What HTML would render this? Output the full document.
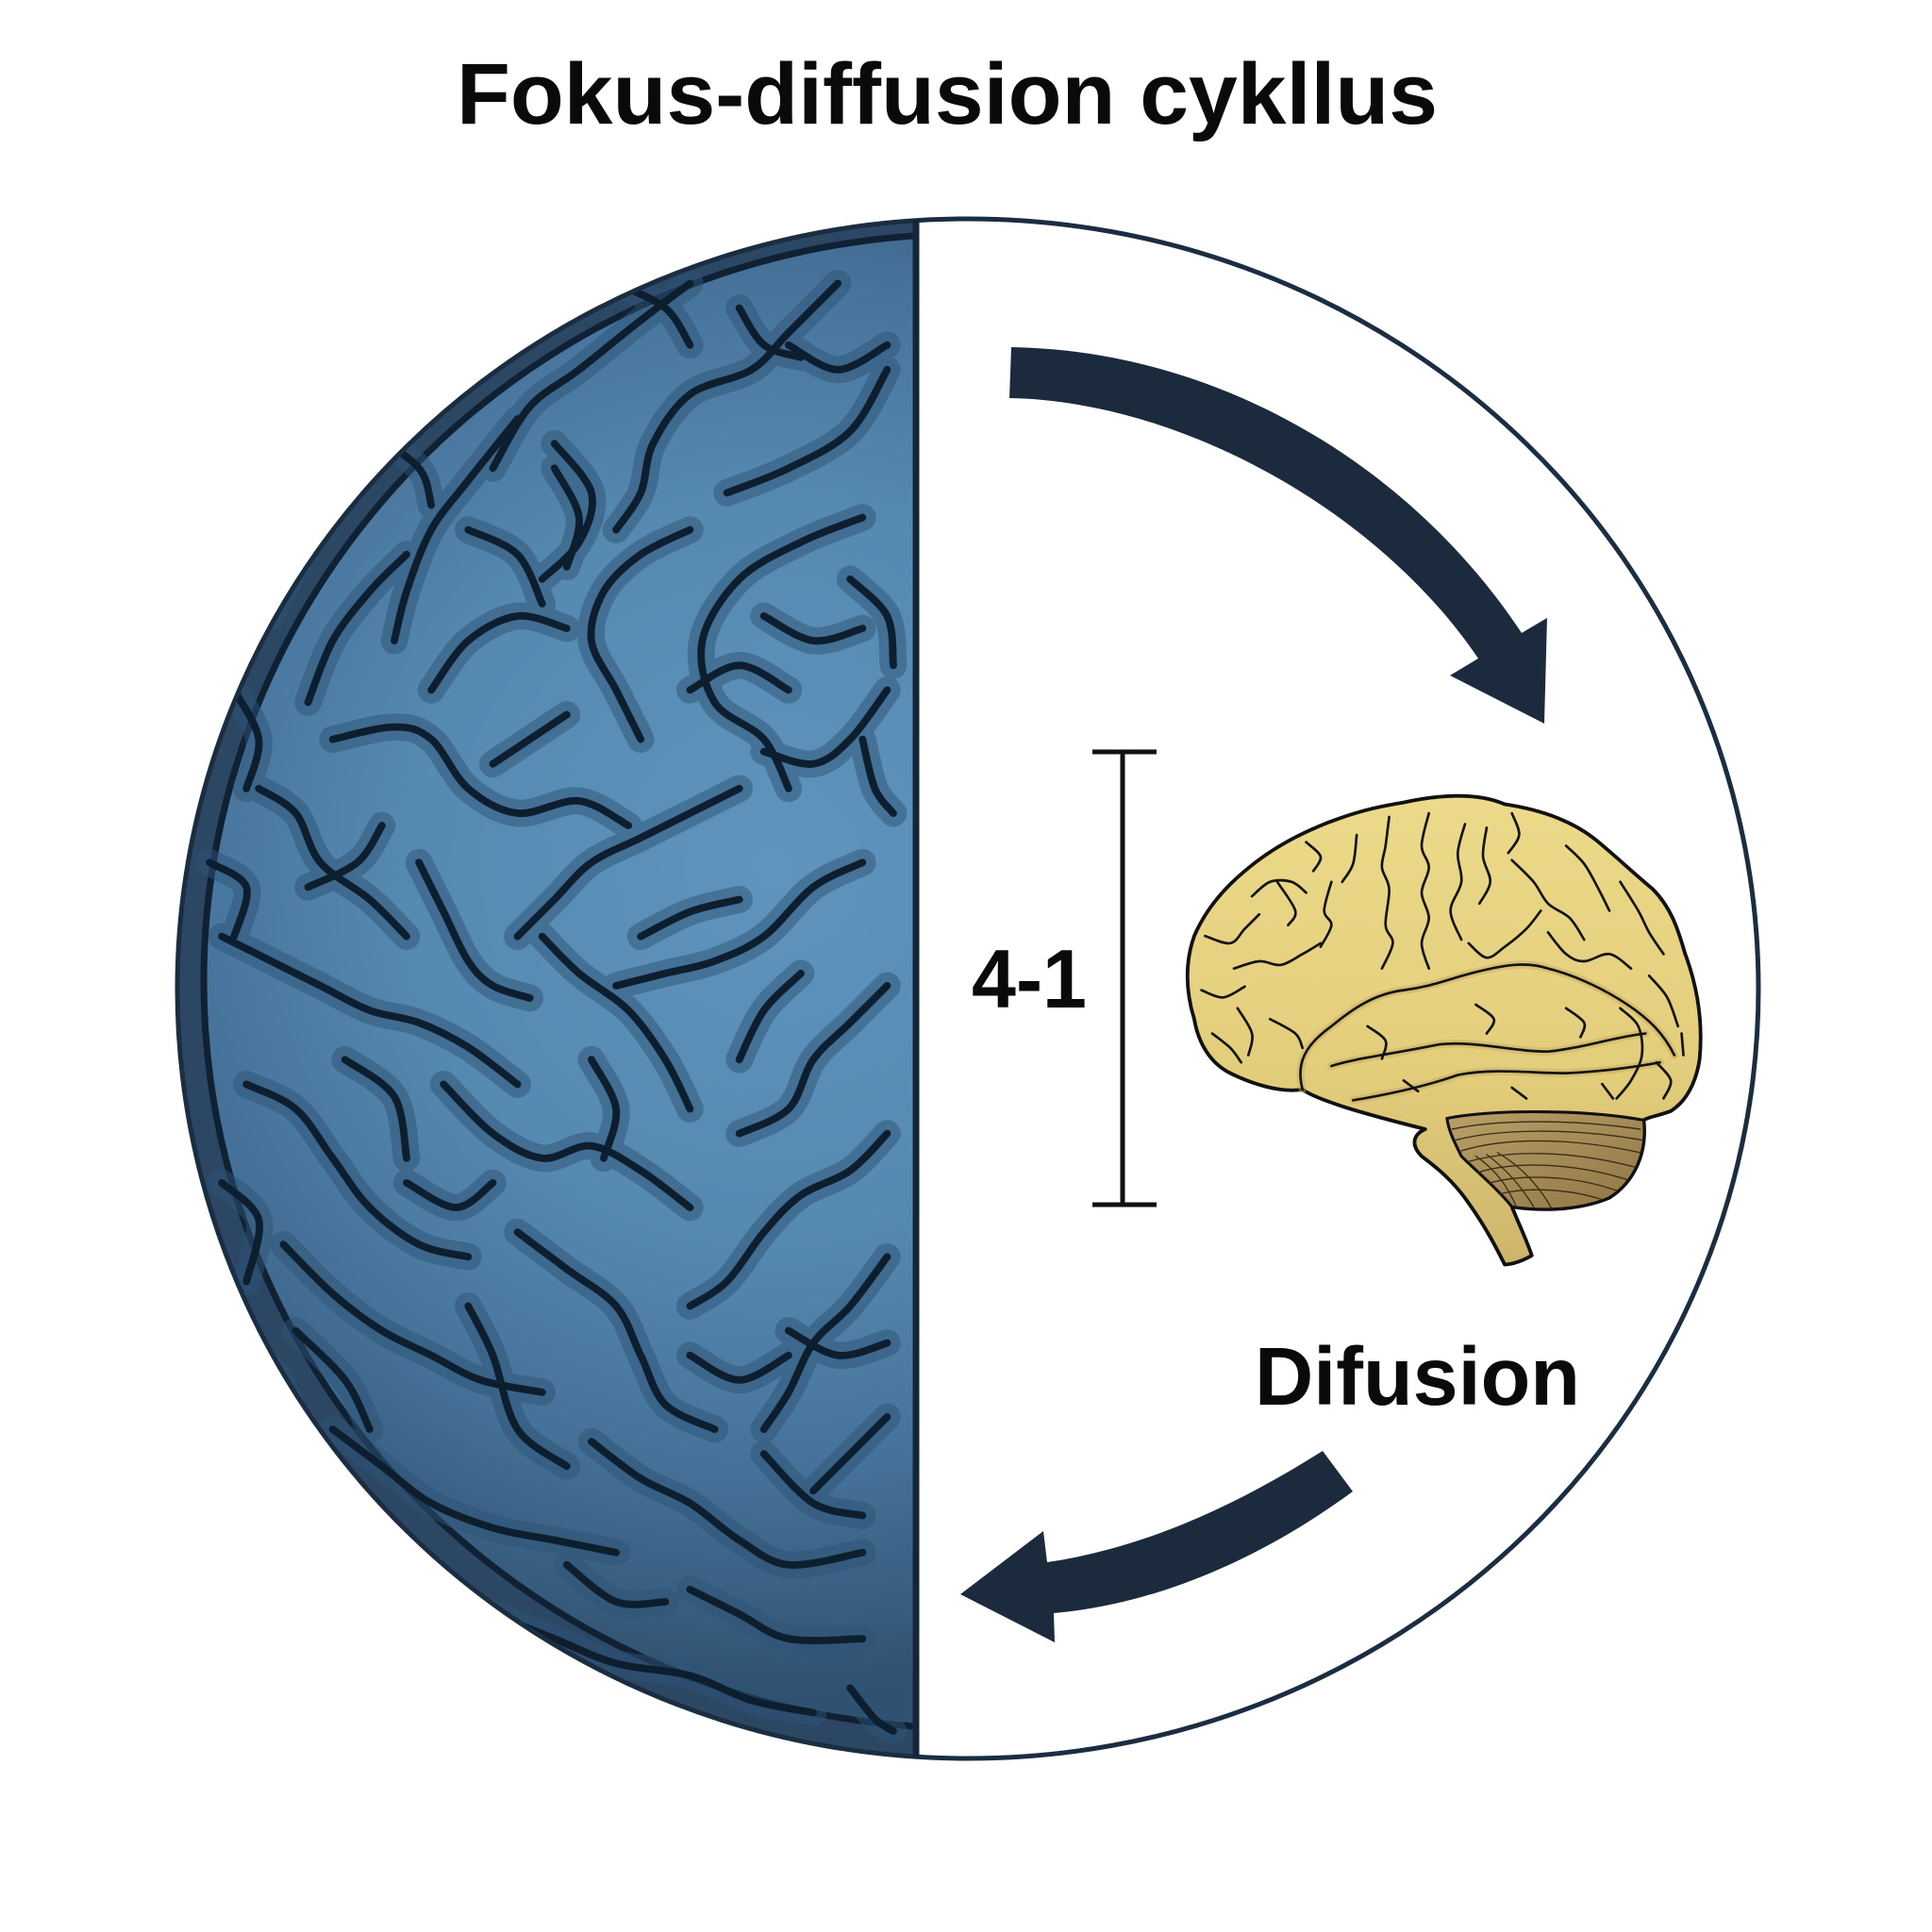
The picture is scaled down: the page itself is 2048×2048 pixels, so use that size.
<!DOCTYPE html>
<html>
<head>
<meta charset="utf-8">
<style>
html,body{margin:0;padding:0;background:#ffffff;}
svg{display:block;}
</style>
</head>
<body>
<svg id="root" xmlns="http://www.w3.org/2000/svg" xmlns:xlink="http://www.w3.org/1999/xlink" width="2048" height="2048" viewBox="0 0 2048 2048">
<defs>
  <clipPath id="ell"><ellipse cx="1026" cy="1048" rx="840" ry="818"/></clipPath>
  <clipPath id="lh"><rect x="0" y="0" width="971" height="2048"/></clipPath>
  <radialGradient id="bg" gradientUnits="userSpaceOnUse" cx="820" cy="920" r="880">
    <stop offset="0" stop-color="#6094bd"/>
    <stop offset="0.45" stop-color="#5689b0"/>
    <stop offset="0.72" stop-color="#46729a"/>
    <stop offset="1" stop-color="#30516f"/>
  </radialGradient>
  <linearGradient id="yb" x1="0" y1="0" x2="0" y2="1">
    <stop offset="0" stop-color="#ecda8a"/>
    <stop offset="0.6" stop-color="#e2cd7b"/>
    <stop offset="1" stop-color="#cdb46a"/>
  </linearGradient>
  <linearGradient id="cb" x1="0" y1="0" x2="1" y2="1">
    <stop offset="0" stop-color="#b9a068"/>
    <stop offset="1" stop-color="#8f7646"/>
  </linearGradient>
  <g id="sul">
    <polyline class="s" points="560,230 520,260 470,300 430,330 400,380"/>
    <polyline class="s" points="680,230 640,270 610,300 560,320 530,360 520,400 500,430"/>
    <polyline class="s" points="720,300 690,350 640,380 590,400"/>
    <polyline class="s" points="600,250 620,280 650,290"/>
    <polyline class="s" points="420,340 380,390 350,430 330,480 320,520"/>
    <polyline class="s" points="330,450 300,480 270,520 250,570"/>
    <polyline class="s" points="560,430 520,450 490,480 480,520 500,560 520,600"/>
    <polyline class="s" points="700,420 650,440 600,470 570,520 580,570 620,600 640,640"/>
    <polyline class="s" points="350,560 380,520 420,500 460,510"/>
    <polyline class="s" points="270,600 320,590 350,600 380,640 420,660 470,650 510,670"/>
    <polyline class="s" points="210,640 240,660 260,700 300,730 330,760"/>
    <polyline class="s" points="600,640 560,660 520,680 480,700 450,730 420,760"/>
    <polyline class="s" points="720,560 690,600 660,620 620,610"/>
    <polyline class="s" points="340,700 360,740 380,780 400,800 430,810"/>
    <polyline class="s" points="180,760 220,780 260,800 300,820 340,830 380,850 420,880"/>
    <polyline class="s" points="700,700 660,720 620,760 580,780 540,790 500,800"/>
    <polyline class="s" points="440,760 470,790 510,820 540,860 560,900"/>
    <polyline class="s" points="720,800 690,830 660,860 640,900 600,920"/>
    <polyline class="s" points="200,880 240,900 270,940 300,980 340,1010 380,1020"/>
    <polyline class="s" points="360,880 400,920 440,940 480,930 520,950 560,980"/>
    <polyline class="s" points="720,920 690,950 650,970 620,1000 590,1040 560,1060"/>
    <polyline class="s" points="230,1010 270,1050 310,1080 350,1100 390,1120 440,1130"/>
    <polyline class="s" points="420,1000 460,1030 500,1060 520,1100 540,1140 580,1160"/>
    <polyline class="s" points="720,1020 690,1060 660,1090 640,1130 620,1160"/>
    <polyline class="s" points="270,1160 310,1190 350,1220 400,1240 450,1250 500,1260"/>
    <polyline class="s" points="480,1170 520,1200 560,1220 600,1250 640,1270 700,1260"/>
    <polyline class="s" points="720,1150 690,1180 660,1210"/>
    <polyline class="s" points="350,1290 400,1310 450,1330 500,1350 560,1360 610,1380 660,1390"/>
    <polyline class="s" points="560,1290 600,1310 640,1330 700,1330"/>
    <polyline class="s" points="600,860 620,820 650,790"/>
    <polyline class="s" points="460,580 430,600 400,620"/>
    <polyline class="s" points="260,420 240,460 220,500"/>
    <polyline class="s" points="190,560 210,600 200,640"/>
    <polyline class="s" points="170,700 200,720 190,760"/>
    <polyline class="s" points="180,960 210,990 200,1040"/>
    <polyline class="s" points="300,1240 340,1270 360,1300"/>
    <polyline class="s" points="480,1390 530,1400 580,1410"/>
    <polyline class="s" points="450,380 470,420 460,460"/>
    <polyline class="s" points="620,500 660,520 700,510"/>
    <polyline class="s" points="380,1060 400,1100 420,1160 460,1190"/>
    <polyline class="s" points="640,1080 680,1100 720,1090"/>
    <polyline class="s" points="450,360 480,400 470,440 440,470"/>
    <polyline class="s" points="380,430 420,450 440,490"/>
    <polyline class="s" points="280,860 320,890 330,940"/>
    <polyline class="s" points="240,1080 280,1120 300,1160"/>
    <polyline class="s" points="180,1080 220,1110 240,1150"/>
    <polyline class="s" points="620,1180 660,1220 700,1230"/>
    <polyline class="s" points="560,1100 600,1120 640,1100"/>
    <polyline class="s" points="700,600 710,640 725,660"/>
    <polyline class="s" points="640,280 680,300 720,280"/>
    <polyline class="s" points="500,230 540,250 560,280"/>
    <polyline class="s" points="300,350 340,380 350,410"/>
    <polyline class="s" points="250,720 290,700 310,670"/>
    <polyline class="s" points="330,960 370,980 400,960"/>
    <polyline class="s" points="460,1270 500,1300 540,1300"/>
    <polyline class="s" points="400,1360 440,1380 470,1380"/>
    <polyline class="s" points="690,1370 710,1395 725,1405"/>
    <polyline class="s" points="520,760 560,740 600,730"/>
    <polyline class="s" points="480,860 500,900 490,940"/>
    <polyline class="s" points="560,560 600,540 640,560"/>
    <polyline class="s" points="690,470 720,500 725,540"/>
  </g>
</defs>

<rect x="0" y="0" width="2048" height="2048" fill="#ffffff"/>

<!-- Title -->
<text x="484" y="131" font-family="'Liberation Sans', Arial, sans-serif" font-weight="bold" font-size="92" fill="#0a0a0a" textLength="1040" lengthAdjust="spacingAndGlyphs">Fokus-diffusion cykllus</text>

<!-- Left half: blue brain -->
<g clip-path="url(#ell)">
 <g clip-path="url(#lh)">
  <rect x="0" y="0" width="971" height="2048" fill="#2b4764"/>
  <ellipse cx="1026" cy="1040" rx="810" ry="792" fill="url(#bg)" stroke="#0f2133" stroke-width="7"/>
  <g transform="scale(1.30612)" fill="none" stroke-linecap="round" stroke-linejoin="round">
   <g stroke="#2e5476" stroke-width="22" opacity="0.5"><use href="#sul" xlink:href="#sul"/></g>
   <g stroke="#0d1e2f" stroke-width="6"><use href="#sul" xlink:href="#sul"/></g>
  </g>
 </g>
</g>

<!-- circle outline and divider -->
<ellipse cx="1026" cy="1048" rx="838" ry="816" fill="none" stroke="#1b2d40" stroke-width="5"/>
<line x1="971" y1="232" x2="971" y2="1864" stroke="#16263a" stroke-width="7"/>

<!-- Top arrow -->
<path d="M1072,368 C1300,372 1500,500 1613,671 L1640,655 L1637,767 L1537,716 L1567,698 C1460,540 1250,425 1070,422 Z" fill="#1b2b3d"/>

<!-- Bottom arrow -->
<path d="M1402,1538 C1320,1590 1220,1640 1110,1656 L1106,1623 L1018,1690 L1118,1741 L1117,1710 C1230,1700 1340,1650 1434,1581 Z" fill="#1b2b3d"/>

<!-- Scale bar -->
<g stroke="#111111" stroke-width="5" fill="none">
  <line x1="1190" y1="797" x2="1190" y2="1277"/>
  <line x1="1158" y1="797" x2="1226" y2="797"/>
  <line x1="1158" y1="1277" x2="1226" y2="1277"/>
</g>

<text x="1030" y="1068" font-family="'Liberation Sans', Arial, sans-serif" font-weight="bold" font-size="88" fill="#0a0a0a" textLength="122" lengthAdjust="spacingAndGlyphs">4-1</text>
<text x="1330" y="1489" font-family="'Liberation Sans', Arial, sans-serif" font-weight="bold" font-size="87" fill="#0a0a0a" textLength="345" lengthAdjust="spacingAndGlyphs">Difusion</text>

<!-- Yellow brain -->
<g transform="translate(1220,820) scale(0.3827)" stroke-linecap="round" stroke-linejoin="round">
  <path d="M700,80 C790,60 900,50 980,85 C1080,100 1170,130 1240,190 C1300,240 1330,270 1390,320 C1440,370 1460,430 1480,500 C1510,580 1530,680 1520,790 C1510,860 1480,910 1440,935 C1400,950 1380,950 1365,960 C1375,1050 1340,1130 1270,1175 C1200,1205 1100,1215 1000,1200 C1020,1250 1040,1290 1055,1335 C1030,1350 1000,1360 980,1360 C960,1320 930,1260 880,1190 C840,1130 790,1090 750,1060 C720,1030 725,1000 760,985 C700,970 620,950 540,925 C480,905 440,890 420,875 C360,885 280,860 220,830 C160,800 130,740 120,680 C95,600 95,520 120,450 C150,380 200,320 260,270 C330,210 420,160 520,125 C590,100 640,90 700,80 Z" fill="url(#yb)" stroke="#111" stroke-width="10"/>
  <path d="M820,955 C950,930 1200,930 1365,960 C1375,1050 1340,1130 1270,1175 C1200,1205 1100,1215 1000,1200 C960,1150 900,1100 860,1060 C840,1020 825,990 820,955 Z" fill="url(#cb)" stroke="#111" stroke-width="8"/>
  <g fill="none" stroke="#3a2c16" stroke-width="3.5">
    <path d="M835,985 C950,960 1150,955 1355,985"/>
    <path d="M845,1015 C960,985 1160,980 1360,1015"/>
    <path d="M860,1045 C970,1010 1150,1005 1355,1050"/>
    <path d="M880,1075 C980,1045 1150,1040 1340,1090"/>
    <path d="M905,1105 C1000,1075 1160,1075 1320,1125"/>
    <path d="M935,1135 C1020,1110 1160,1110 1290,1155"/>
    <path d="M965,1165 C1040,1145 1160,1150 1250,1180"/>
    <path d="M900,1060 C960,1100 990,1150 1010,1195"/>
    <path d="M930,1055 C990,1100 1030,1150 1060,1200"/>
    <path d="M960,1050 C1030,1090 1080,1150 1110,1205"/>
  </g>
  <g fill="none" stroke="#c5ac5e" stroke-width="22" opacity="0.45">
    <path d="M420,875 C400,800 430,750 500,700 C560,650 620,610 700,600 C780,590 820,570 900,550 C980,530 1040,520 1100,540 C1180,560 1260,600 1320,640 C1380,680 1420,720 1450,780"/>
    <path d="M500,810 C560,790 650,780 800,750 C900,740 1000,770 1100,770 C1200,760 1280,730 1370,720"/>
    <path d="M560,905 C650,890 750,870 850,835 C950,815 1050,830 1150,830 C1250,825 1330,815 1410,800"/>
  </g>
  <g fill="none" stroke="#141414" stroke-width="7">
    <path d="M420,875 C400,800 430,750 500,700 C560,650 620,610 700,600 C780,590 820,570 900,550 C980,530 1040,520 1100,540 C1180,560 1260,600 1320,640 C1380,680 1420,720 1450,780"/>
    <path d="M500,810 C560,790 650,780 800,750 C900,740 1000,770 1100,770 C1200,760 1280,730 1370,720"/>
    <path d="M560,905 C650,890 750,870 850,835 C950,815 1050,830 1150,830 C1250,825 1330,815 1410,800"/>
    <polyline class="s" points="280,340 330,300 390,300 430,330"/>
    <polyline class="s" points="350,300 400,380 380,420"/>
    <polyline class="s" points="150,450 220,470 260,430 300,390"/>
    <polyline class="s" points="230,540 300,520 360,530 420,500 470,470"/>
    <polyline class="s" points="140,600 200,620 260,590"/>
    <polyline class="s" points="240,650 280,720 270,780"/>
    <polyline class="s" points="330,680 400,720 420,760"/>
    <polyline class="s" points="170,720 220,760 250,800"/>
    <polyline class="s" points="500,300 480,380 500,420 470,480"/>
    <polyline class="s" points="570,170 560,250 530,300"/>
    <polyline class="s" points="660,120 650,200 640,260 660,320 650,420 670,470 640,540"/>
    <polyline class="s" points="770,110 750,200 770,260 750,330 770,400 750,470 770,540"/>
    <polyline class="s" points="870,140 850,220 860,300 830,380 860,460"/>
    <polyline class="s" points="930,150 920,230 940,300 910,360"/>
    <polyline class="s" points="1000,240 1060,300 1100,360 1160,400 1200,460"/>
    <polyline class="s" points="1150,200 1200,250 1240,320 1270,380"/>
    <polyline class="s" points="1300,300 1350,380 1380,440 1420,500"/>
    <polyline class="s" points="1100,440 1150,500 1200,520 1270,500 1330,540"/>
    <polyline class="s" points="1380,560 1430,620 1460,700"/>
    <polyline class="s" points="1470,720 1475,780"/>
    <polyline class="s" points="1300,650 1350,700 1360,780 1330,850 1290,900"/>
    <polyline class="s" points="1400,800 1440,850 1420,900"/>
    <polyline class="s" points="880,470 930,510 980,480 1040,430 1080,380"/>
    <polyline class="s" points="1000,110 1020,170 990,220"/>
    <polyline class="s" points="430,190 470,230 450,270"/>
    <polyline class="s" points="600,700 650,740 640,790"/>
    <polyline class="s" points="900,640 950,680 930,720"/>
    <polyline class="s" points="1150,650 1200,690 1190,730"/>
    <polyline class="s" points="700,850 740,880"/>
    <polyline class="s" points="1000,870 1040,900"/>
    <polyline class="s" points="1250,860 1280,900"/>
  </g>
</g>
</svg>
<script>
(function(){
  var NS="http://www.w3.org/2000/svg";
  var list=document.querySelectorAll("polyline.s");
  for(var k=0;k<list.length;k++){
    var pl=list[k];
    var nums=pl.getAttribute("points").trim().split(/[\s,]+/).map(Number);
    var p=[];for(var i=0;i+1<nums.length;i+=2)p.push([nums[i],nums[i+1]]);
    if(p.length<3)continue;
    var d="M"+p[0][0]+","+p[0][1];
    for(var i=0;i<p.length-1;i++){
      var p0=p[i-1]||p[i],p1=p[i],p2=p[i+1],p3=p[i+2]||p[i+1];
      var c1x=p1[0]+(p2[0]-p0[0])/6,c1y=p1[1]+(p2[1]-p0[1])/6;
      var c2x=p2[0]-(p3[0]-p1[0])/6,c2y=p2[1]-(p3[1]-p1[1])/6;
      d+=" C"+c1x.toFixed(1)+","+c1y.toFixed(1)+" "+c2x.toFixed(1)+","+c2y.toFixed(1)+" "+p2[0]+","+p2[1];
    }
    var path=document.createElementNS(NS,"path");
    path.setAttribute("d",d);
    pl.parentNode.replaceChild(path,pl);
  }
})();
</script>
</body>
</html>
